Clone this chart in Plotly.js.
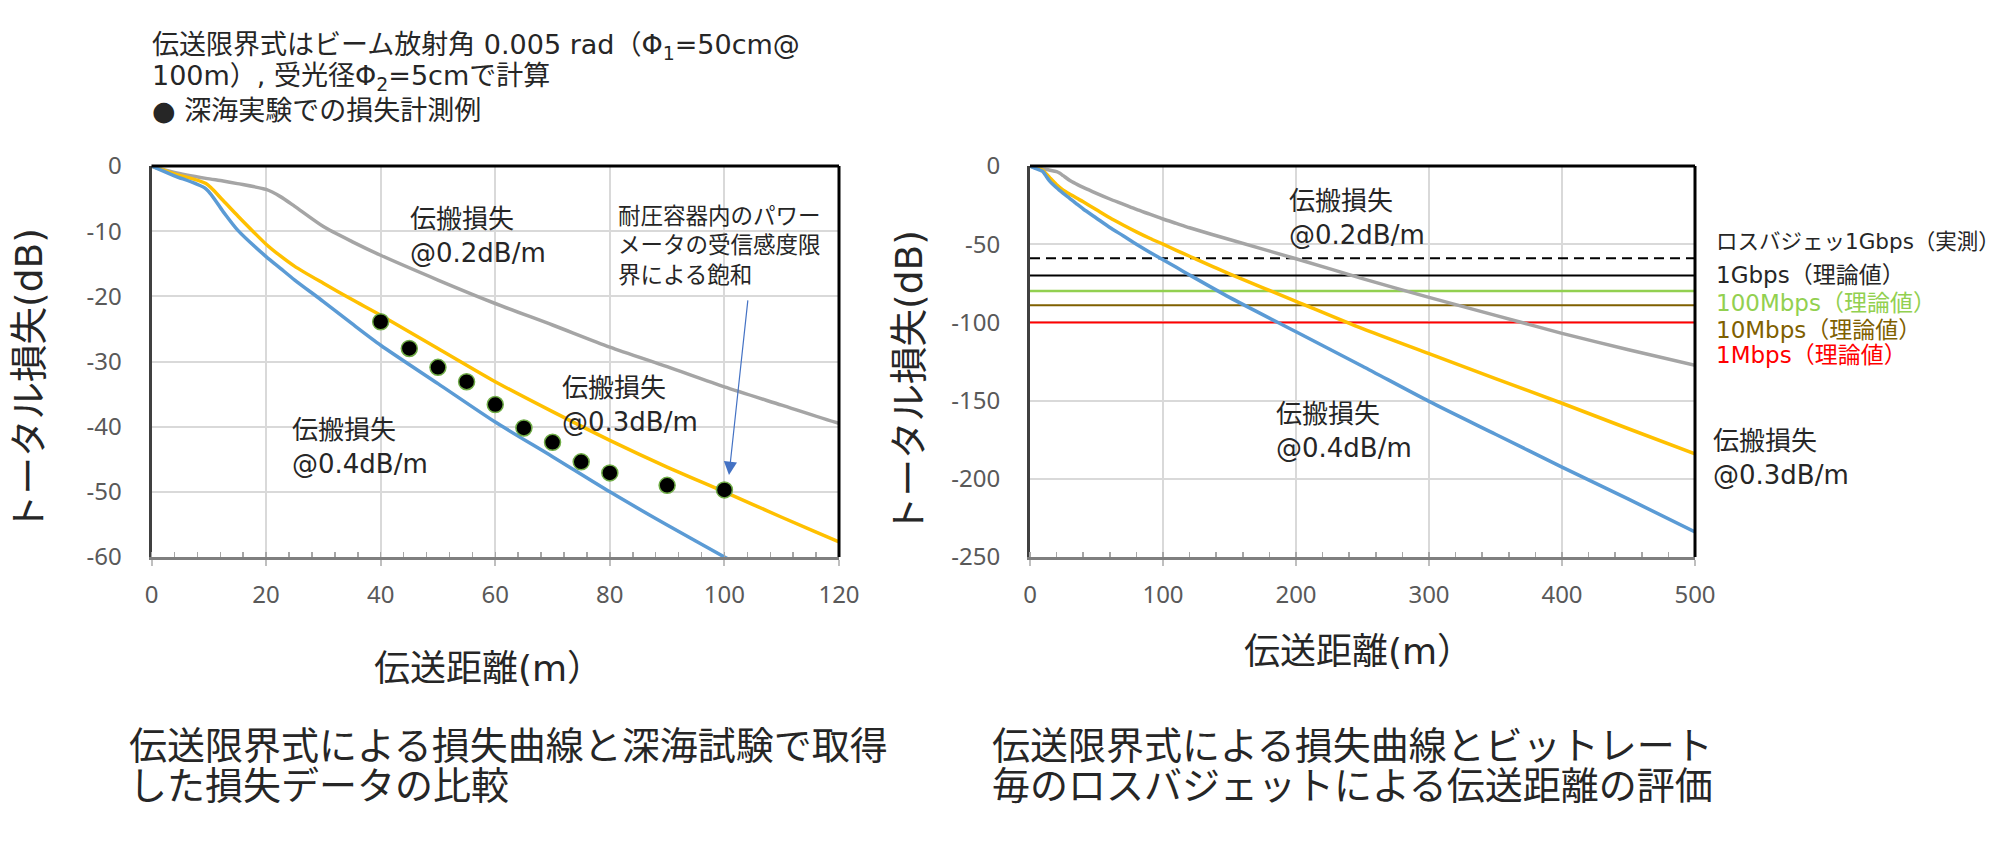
<!DOCTYPE html>
<html>
<head>
<meta charset="utf-8">
<script src="https://cdn.plot.ly/plotly-3.0.1.min.js"></script>
<style>
  html, body { margin: 0; padding: 0; background: #ffffff; }
  #chart { width: 2000px; height: 843px; }
</style>
</head>
<body>
<div id="chart"></div>
<script>
// ---------------- data ----------------
const distance = [0, 4, 9.5, 12.5, 15, 20, 22.5, 25, 30, 35, 40, 50, 60, 70, 80, 90, 100, 110, 120, 150, 200, 250, 300, 350, 400, 450, 500];
const loss02 = [0, -1.0, -1.9, -2.3, -2.7, -3.6, -4.7, -6.2, -9.3, -11.6, -13.7, -17.5, -21.1, -24.4, -27.8, -30.8, -33.9, -36.7, -39.5, -47, -59.3, -72, -84, -95.5, -107, -117.5, -127.5];
const loss03 = [0, -1.2, -2.7, -5.3, -7.6, -12.0, -13.8, -15.4, -18.0, -20.5, -22.9, -28, -33.1, -37.7, -42.1, -46.2, -50, -53.9, -57.7, -69, -86.5, -104, -120, -136, -151.7, -168, -184];
const loss04 = [0, -1.5, -3.5, -7.0, -9.8, -13.9, -15.7, -17.5, -20.8, -24.2, -27.5, -33.4, -39.3, -44.6, -50, -55.1, -60, -64.8, -69.7, -84, -106, -128, -150.5, -171.5, -192.5, -213, -234];

const measDistance = [40, 45, 50, 55, 60, 65, 70, 75, 80, 90, 100];
const measLoss = [-23.9, -28.0, -30.9, -33.1, -36.6, -40.2, -42.4, -45.4, -47.1, -49.0, -49.7];

const budgetLabels = ['ロスバジェッ1Gbps（実測）', '1Gbps（理論値）', '100Mbps（理論値）', '10Mbps（理論値）', '1Mbps（理論値）'];
const budgetValues = [-59, -70, -80, -89, -100];

const curveLabels = ['伝搬損失<br>@0.2dB/m', '伝搬損失<br>@0.3dB/m', '伝搬損失<br>@0.4dB/m'];
const leftXTicks = [0, 20, 40, 60, 80, 100, 120];
const leftYTicks = [0, -10, -20, -30, -40, -50, -60];
const rightXTicks = [0, 100, 200, 300, 400, 500];
const rightYTicks = [0, -50, -100, -150, -200, -250];

// ---------------- styles ----------------
const W = 2000, H = 843;
const px = x => x / W;
const py = y => 1 - y / H;
const FONT = 'DejaVu Sans, "Noto Sans CJK JP", sans-serif';
const TICKFONT = { family: 'Noto Sans, "Noto Sans CJK JP", sans-serif', size: 24, color: '#595959' };
const BLUE = '#5B9BD5', YELLOW = '#FFC000', GRAY = '#A5A5A5';
const budgetStyles = [
  { color: '#000000', dash: '10px,6px', width: 2, text: '#262626', size: 21.5 },
  { color: '#000000', dash: 'solid', width: 2, text: '#262626', size: 23 },
  { color: '#92D050', dash: 'solid', width: 2.5, text: '#92D050', size: 23 },
  { color: '#7F6000', dash: 'solid', width: 2, text: '#7F6000', size: 23 },
  { color: '#FF0000', dash: 'solid', width: 2, text: '#FF0000', size: 23 }
];
const budgetLabelY = [241, 275, 303, 330, 355];

const curveLine = (color) => ({ color: color, width: 3.5, shape: 'spline', smoothing: 0.7 });

const traces = [];
[[loss02, GRAY], [loss03, YELLOW], [loss04, BLUE]].forEach(([ys, c]) => {
  traces.push({ x: distance, y: ys, xaxis: 'x', yaxis: 'y', mode: 'lines', line: curveLine(c), hoverinfo: 'skip' });
});
traces.push({
  x: measDistance, y: measLoss, xaxis: 'x', yaxis: 'y', mode: 'markers',
  marker: { color: '#000000', size: 16, line: { color: '#70AD47', width: 1.5 } }, hoverinfo: 'skip'
});
budgetValues.forEach((v, i) => {
  const s = budgetStyles[i];
  traces.push({ x: [0, 500], y: [v, v], xaxis: 'x2', yaxis: 'y2', mode: 'lines',
    line: { color: s.color, width: s.width, dash: s.dash }, hoverinfo: 'skip' });
});
[[loss02, GRAY], [loss03, YELLOW], [loss04, BLUE]].forEach(([ys, c]) => {
  traces.push({ x: distance, y: ys, xaxis: 'x2', yaxis: 'y2', mode: 'lines', line: curveLine(c), hoverinfo: 'skip' });
});

const yDom = [1 - 557 / H, 1 - 166 / H];
const axisX = (domain, range, ticks, minorD) => ({
  domain: domain, range: range, tickvals: ticks, ticktext: ticks.map(String),
  showgrid: true, gridcolor: '#D9D9D9', gridwidth: 2, zeroline: false,
  showline: true, linecolor: '#7F7F7F', linewidth: 3,
  ticks: 'outside', ticklen: 6, tickwidth: 2, tickcolor: '#BFBFBF',
  minor: { ticks: 'inside', dtick: minorD, ticklen: 5, tickwidth: 1.5, tickcolor: '#A6A6A6', showgrid: false },
  tickfont: TICKFONT, ticklabelstandoff: 8, fixedrange: true
});
const axisY = (range, ticks) => ({
  domain: yDom, range: range, tickvals: ticks, ticktext: ticks.map(String),
  showgrid: true, gridcolor: '#D9D9D9', gridwidth: 2, zeroline: false,
  showline: true, linecolor: '#404040', linewidth: 3, ticks: '',
  tickfont: TICKFONT, ticklabelstandoff: 22, fixedrange: true
});

const txt = (text, x, y, size, color, extra) => Object.assign({
  xref: 'paper', yref: 'paper', x: px(x), y: py(y), text: text, showarrow: false,
  xanchor: 'left', yanchor: 'middle', align: 'left',
  font: { family: FONT, size: size, color: color || '#262626' }
}, extra || {});

const annotations = [
  // header notes
  txt('伝送限界式はビーム放射角 0.005 rad（Φ<sub>1</sub>=50cm@', 150, 46, 27),
  txt('100m）, 受光径Φ<sub>2</sub>=5cmで計算', 150, 77, 27),
  txt('● 深海実験での損失計測例', 150, 110, 27),
  // axis titles
  txt('トータル損失(dB)', 29, 380, 37.5, '#262626', { xanchor: 'center', textangle: -90 }),
  txt('トータル損失(dB)', 909, 382, 37.5, '#262626', { xanchor: 'center', textangle: -90 }),
  txt('伝送距離(m）', 488, 668, 36, '#262626', { xanchor: 'center' }),
  txt('伝送距離(m）', 1358, 651, 36, '#262626', { xanchor: 'center' }),
  // captions
  txt('伝送限界式による損失曲線と深海試験で取得', 127, 746, 38),
  txt('した損失データの比較', 127, 786, 38),
  txt('伝送限界式による損失曲線とビットレート', 990, 746, 38),
  txt('毎のロスバジェットによる伝送距離の評価', 990, 786, 38),
  // left plot labels
  txt(curveLabels[0], 408, 236, 26),
  txt(curveLabels[1], 560, 405, 26),
  txt(curveLabels[2], 290, 447, 26),
  txt('耐圧容器内のパワー<br>メータの受信感度限<br>界による飽和', 616, 245, 22.5),
  // right plot labels
  txt(curveLabels[0], 1287, 218, 26),
  txt(curveLabels[2], 1274, 431, 26),
  txt(curveLabels[1], 1711, 458, 26),
  // arrow
  { xref: 'x', yref: 'y', x: 100.8, y: -47.4, ax: 19, ay: -176, axref: 'pixel', ayref: 'pixel',
    showarrow: true, arrowhead: 2, arrowsize: 2.2, arrowwidth: 1.2, arrowcolor: '#4472C4', standoff: 0, text: '' }
];
budgetLabels.forEach((lab, i) => {
  annotations.push(txt(lab, 1714, budgetLabelY[i], budgetStyles[i].size, budgetStyles[i].text));
});

const frame = (xr, yr) => ([
  { type: 'line', xref: xr + ' domain', yref: yr + ' domain', x0: 0, x1: 1, y0: 1, y1: 1, line: { color: '#000000', width: 3 } },
  { type: 'line', xref: xr + ' domain', yref: yr + ' domain', x0: 1, x1: 1, y0: 0, y1: 1, line: { color: '#000000', width: 3 } }
]);

const layout = {
  width: W, height: H,
  margin: { l: 0, r: 0, t: 0, b: 0 },
  paper_bgcolor: '#FFFFFF', plot_bgcolor: '#FFFFFF',
  showlegend: false,
  xaxis: axisX([151.5 / W, 839 / W], [0, 120], leftXTicks, 4),
  yaxis: axisY([-60, 0], leftYTicks),
  xaxis2: Object.assign(axisX([1030 / W, 1695 / W], [0, 500], rightXTicks, 20), { anchor: 'y2' }),
  yaxis2: Object.assign(axisY([-250, 0], rightYTicks), { anchor: 'x2' }),
  annotations: annotations,
  shapes: frame('x', 'y').concat(frame('x2', 'y2'))
};

Plotly.newPlot('chart', traces, layout, { displayModeBar: false, staticPlot: true });
</script>
</body>
</html>
